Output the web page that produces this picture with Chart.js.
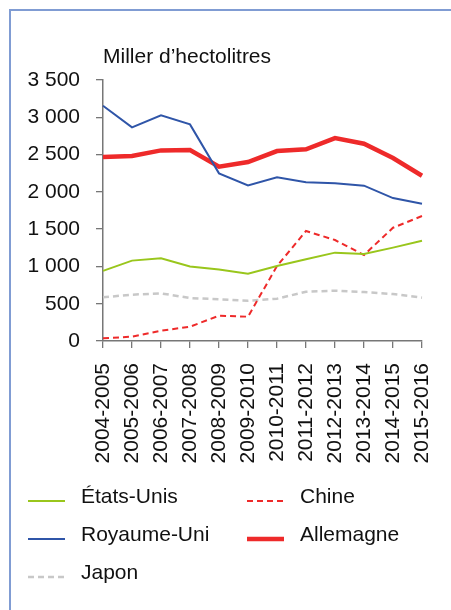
<!DOCTYPE html>
<html>
<head>
<meta charset="utf-8">
<script src="https://cdn.jsdelivr.net/npm/chart.js@4"></script>
<style>
  html, body { margin:0; padding:0; background:#fff; }
  #wrap { position:relative; width:451px; height:610px; overflow:hidden; }
  #frame { position:absolute; left:9px; top:9px; right:-5px; bottom:-5px;
           border-top:2px solid #809cd3; border-left:2px solid #809cd3; }
  canvas { position:absolute; left:0; top:0; }
</style>
</head>
<body>
<div id="wrap">
  <div id="frame"></div>
  <canvas id="chart" width="451" height="610"></canvas>
</div>
<script>
// données (milliers d'hectolitres)
const years = ["2004-2005","2005-2006","2006-2007","2007-2008","2008-2009","2009-2010",
               "2010-2011","2011-2012","2012-2013","2013-2014","2014-2015","2015-2016"];
const etatsUnis   = [940, 1078, 1108, 998, 958, 903, 1005, 1097, 1185, 1168, 1252, 1345];
const chine       = [36, 58, 138, 192, 339, 326, 1005, 1475, 1354, 1153, 1519, 1676];
const royaumeUni  = [3155, 2865, 3026, 2905, 2248, 2087, 2195, 2128, 2114, 2083, 1917, 1841];
const allemagne   = [2466, 2480, 2556, 2560, 2337, 2400, 2547, 2570, 2721, 2645, 2453, 2216];
const japon       = [586, 621, 639, 576, 559, 540, 567, 661, 674, 657, 630, 581];
const yTicks      = [0, 500, 1000, 1500, 2000, 2500, 3000, 3500];

const FONT = "'Liberation Sans', Arial, sans-serif";

function fmt(v){ return String(v).replace(/\B(?=(\d{3})+(?!\d))/g, ' '); }

// légende sur 2 colonnes (ordre : colonne gauche puis droite)
const legendSlots = [
  { idx:0, x:28, y:501 }, { idx:2, x:28, y:539 }, { idx:4, x:28, y:577 },
  { idx:1, x:247, y:501 }, { idx:3, x:247, y:539 }
];

const extras = {
  id:'extras',
  afterDraw(chart){
    const ctx = chart.ctx;
    ctx.save();
    ctx.fillStyle = '#111';
    ctx.font = '21px ' + FONT;
    ctx.textBaseline = 'alphabetic';
    ctx.textAlign = 'left';
    ctx.fillText('Miller d\u2019hectolitres', 103, 63);
    legendSlots.forEach(s=>{
      const ds = chart.data.datasets[s.idx];
      ctx.save();
      ctx.strokeStyle = ds.borderColor;
      ctx.lineWidth = ds.borderWidth;
      ctx.setLineDash(ds.borderDash || []);
      ctx.beginPath();
      ctx.moveTo(s.x, s.y); ctx.lineTo(s.x + 37, s.y);
      ctx.stroke();
      ctx.restore();
      ctx.fillText(ds.label, s.x + 53, s.y + 2);
    });
    ctx.restore();
  }
};

new Chart(document.getElementById('chart'), {
  type:'line',
  data:{
    labels: years,
    datasets:[
      { label:'\u00c9tats-Unis', data:etatsUnis, borderColor:'#99c61c', borderWidth:2 },
      { label:'Chine', data:chine, borderColor:'#ee2a2a', borderWidth:2, borderDash:[6,4] },
      { label:'Royaume-Uni', data:royaumeUni, borderColor:'#2f55a8', borderWidth:2 },
      { label:'Allemagne', data:allemagne, borderColor:'#ee2a2a', borderWidth:4.5 },
      { label:'Japon', data:japon, borderColor:'#c8c8c8', borderWidth:2.5, borderDash:[6,4] }
    ]
  },
  options:{
    responsive:false, animation:false,
    elements:{ point:{ radius:0 }, line:{ tension:0, borderCapStyle:'butt' } },
    layout:{ padding:{ top:80, right:29, left:0, bottom:0 } },
    plugins:{ legend:{ display:false }, tooltip:{ enabled:false } },
    scales:{
      x:{
        offset:false,
        grid:{ drawOnChartArea:false, drawTicks:true, tickLength:7, color:'#777', lineWidth:1.3 },
        border:{ color:'#777', width:1.5 },
        ticks:{ minRotation:90, maxRotation:90, autoSkip:false, padding:15,
                color:'#111', font:{ family:FONT, size:21 } },
        afterFit(s){ s.height = 269; s.paddingLeft = 0; s.paddingRight = 0; }
      },
      y:{
        min:0, max:3500,
        afterBuildTicks(s){ s.ticks = yTicks.map(v=>({ value:v })); },
        grid:{ drawOnChartArea:false, drawTicks:true, tickLength:7, color:'#777', lineWidth:1.3 },
        border:{ color:'#777', width:1.5 },
        ticks:{ padding:16, color:'#111', font:{ family:FONT, size:21 }, callback:v=>fmt(v) },
        afterFit(s){ s.width = 103; }
      }
    }
  },
  plugins:[extras]
});
</script>
</body>
</html>
